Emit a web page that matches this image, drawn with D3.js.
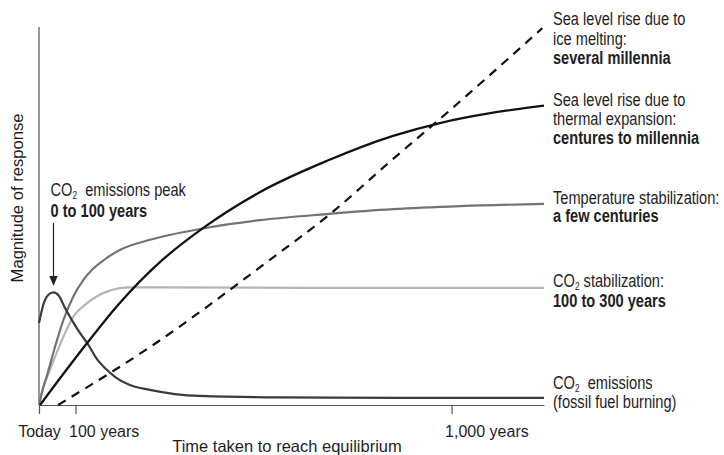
<!DOCTYPE html>
<html>
<head>
<meta charset="utf-8">
<script src="https://cdn.jsdelivr.net/npm/d3@7"></script>
<style>
body { margin: 0; background: #fff; }
svg text { font-family: 'Liberation Sans', Arial, sans-serif; fill: #1e1e1e; white-space: pre; }
</style>
</head>
<body>
<svg id="chart"></svg>
<script>
// values: years after today, magnitude 0..100
let iceYears = [52, 278, 565, 709, 860, 965, 1216]
let iceValues = [0, 15.3, 38.4, 50.5, 65.1, 75.0, 99.7]

let thermalYears = [3, 111, 206, 302, 405, 541, 702, 860, 972, 1092, 1220]
let thermalValues = [0, 14.0, 27.0, 37.8, 46.8, 56.3, 64.6, 71.2, 74.6, 77.2, 79.2]

let tempYears = [0, 8, 21, 44, 67, 94, 119, 139, 171, 206, 278, 405, 541, 701, 860, 1020, 1220]
let tempValues = [0, 3.4, 7.5, 15.4, 22.5, 28.7, 33.1, 35.7, 38.6, 41.0, 43.7, 46.7, 48.9, 50.5, 51.8, 52.6, 53.2]

let co2StabYears = [0, 14, 30, 67, 94, 127, 175, 230, 278, 637, 1220]
let co2StabValues = [0, 5.3, 9.3, 18.1, 23.4, 26.9, 30.0, 31.1, 31.1, 31.0, 31.0]

let emissionsYears = [0, 14, 25, 40, 55, 71, 93, 111, 128, 151, 173, 195, 230, 278, 338, 398, 589, 877, 1220]
let emissionsValues = [21.7, 27.2, 29.1, 29.8, 28.8, 25.7, 22.0, 19.0, 16.4, 12.2, 9.5, 7.4, 5.3, 4.0, 2.9, 2.4, 2.0, 1.9, 1.9]

let tickYears = [0, 100, 1000]
let tickLabels = ['Today', '100 years', '1,000 years']

// last line of a label is bold when it gives the time span
let iceLabel = ['Sea level rise due to', 'ice melting:', 'several millennia']
let thermalLabel = ['Sea level rise due to', 'thermal expansion:', 'centures to millennia']
let tempLabel = ['Temperature stabilization:', 'a few centuries']
let co2StabLabel = ['CO2 stabilization:', '100 to 300 years']
let emissionsLabel = ['CO2  emissions', '(fossil fuel burning)']
let peakLabel = ['CO2  emissions peak', '0 to 100 years']

let width = 724, height = 455

let svg = d3.select('#chart')
    .attr('width', width)
    .attr('height', height)

// time axis is schematic: first century is drawn a bit shorter
let x = d3.scaleLinear()
    .domain([0, 100, 1000, 1220])
    .range([39, 75.5, 451.6, 544])
let y = d3.scaleLinear()
    .domain([0, 100])
    .range([405, 27])

// axes
svg.append('line')
    .attr('x1', x(0)).attr('x2', x(0))
    .attr('y1', y(100)).attr('y2', y(0))
    .attr('stroke', '#555').attr('stroke-width', 1.2)

let xAxis = svg.append('g')
    .attr('transform', 'translate(0,' + y(0) + ')')
    .call(d3.axisBottom(x)
        .tickValues(tickYears)
        .tickSize(9)
        .tickSizeOuter(0)
        .tickFormat((d, i) => tickLabels[i]))
xAxis.select('.domain').attr('stroke', '#555').attr('stroke-width', 1.2)
xAxis.selectAll('.tick line').attr('stroke', '#555').attr('stroke-width', 1.2)
xAxis.selectAll('.tick text')
    .attr('font-size', 16)
    .attr('fill', '#1e1e1e')
    .attr('y', 32)
    .attr('dy', 0)
    .attr('text-anchor', (d, i) => i === 0 ? 'middle' : 'start')
    .attr('dx', (d, i) => i === 0 ? 0 : -7)

svg.append('text')
    .attr('x', 287).attr('y', 452)
    .attr('text-anchor', 'middle')
    .attr('font-size', 16.5)
    .text('Time taken to reach equilibrium')

svg.append('text')
    .attr('transform', 'translate(23,198) rotate(-90)')
    .attr('text-anchor', 'middle')
    .attr('font-size', 16.6)
    .text('Magnitude of response')

// curves
let series = [
    {years: co2StabYears, values: co2StabValues, color: '#b4b4b4', w: 2.2, dash: null},
    {years: tempYears, values: tempValues, color: '#737373', w: 2.2, dash: null},
    {years: emissionsYears, values: emissionsValues, color: '#3a3a3a', w: 2.2, dash: null},
    {years: thermalYears, values: thermalValues, color: '#111', w: 2.3, dash: null},
    {years: iceYears, values: iceValues, color: '#111', w: 2.2, dash: '9,7'}
]

let line = d3.line()
    .x(d => x(d[0]))
    .y(d => y(d[1]))
    .curve(d3.curveMonotoneX)

svg.selectAll('path.curve')
    .data(series)
    .enter().append('path')
    .attr('class', 'curve')
    .attr('d', s => line(s.years.map((yr, i) => [yr, s.values[i]])))
    .attr('fill', 'none')
    .attr('stroke', s => s.color)
    .attr('stroke-width', s => s.w)
    .attr('stroke-dasharray', s => s.dash)

// condensed look: no narrow font installed, so squeeze horizontally
function addLine(px, py, str, bold) {
    let t = svg.append('text')
        .attr('transform', 'translate(' + px + ',' + py + ') scale(0.835,1)')
        .attr('font-size', 17.5)
    if (bold) t.attr('font-weight', 'bold')
    if (str.indexOf('CO2') === 0) {
        t.append('tspan').text('CO')
        t.append('tspan').attr('font-size', 10).attr('dy', 3).text('2')
        t.append('tspan').attr('dy', -3).text(str.slice(3))
    } else {
        t.text(str)
    }
}

function addBlock(lines, px, py, gap, boldLast) {
    lines.forEach((s, i) => addLine(px, py + i * gap, s, boldLast && i === lines.length - 1))
}

addBlock(iceLabel, 553, 25, 19.5, true)
addBlock(thermalLabel, 553, 105.5, 19.3, true)
addBlock(tempLabel, 553, 203.5, 18.5, true)
addBlock(co2StabLabel, 553, 287, 19.5, true)
addBlock(emissionsLabel, 553, 388.5, 19.5, false)
addBlock(peakLabel, 50.5, 195.5, 21, true)

// arrow to the emissions peak
svg.append('line')
    .attr('x1', 53.5).attr('x2', 53.5)
    .attr('y1', 223).attr('y2', 277)
    .attr('stroke', '#222').attr('stroke-width', 1.2)
svg.append('path')
    .attr('d', 'M49.3,276 L57.7,276 L53.5,286 Z')
    .attr('fill', '#222')
</script>
</body>
</html>
